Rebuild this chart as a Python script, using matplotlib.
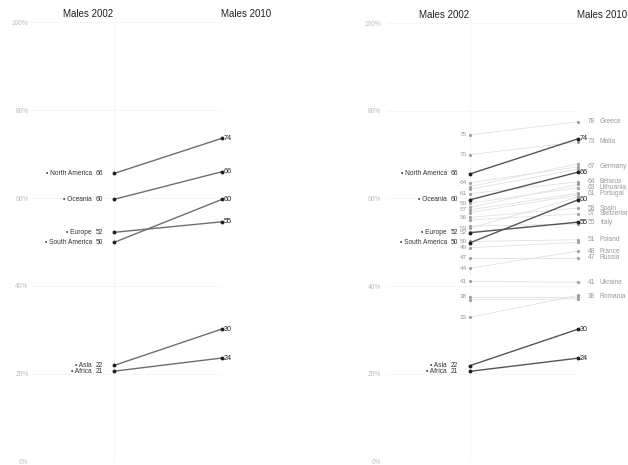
import matplotlib
matplotlib.use("Agg")
import matplotlib.pyplot as plt

plt.rcParams['font.family'] = ['Liberation Sans', 'DejaVu Sans']

W, H, DPI = 628, 465, 100

# ---------------- data ----------------
regions = ["North America", "Oceania", "Europe", "South America", "Asia", "Africa"]
regions_2002 = [65.6, 59.7, 52.2, 49.9, 21.9, 20.6]
regions_2010 = [73.6, 66.0, 54.6, 59.7, 30.2, 23.6]

countries = ["Greece", "Malta", "Germany", "Belarus", "Lithuania", "Portugal",
             "Spain", "Italy", "Poland", "Russia", "France", "Ukraine", "Romania",
             "Switzerland", "Croatia", "Latvia", "Moldova", "Finland", "Ireland",
             "Czech Republic", "Slovakia", "Hungary", "Bulgaria"]
countries_2002 = [74.5, 70.0, 63.6, 61.1, 58.9, 57.4,
                  55.7, 52.3, 50.2, 46.5, 44.1, 41.1, 37.6,
                  55.1, 53.2, 48.8, 32.9, 62.7, 62.1,
                  58.0, 56.8, 53.7, 36.9]
countries_2010 = [77.5, 72.9, 67.2, 63.8, 62.5, 61.2,
                  57.8, 54.6, 50.6, 46.5, 48.0, 40.9, 37.6,
                  56.5, 60.3, 50.0, 37.9, 67.9, 66.7,
                  63.2, 60.8, 54.2, 37.1]
country_label_2002 = [True, True, True, True, True, True,
                      True, True, True, True, True, True, True,
                      False, True, True, True, False, False,
                      False, False, False, False]
country_label_2010 = [True, True, True, True, True, True,
                      True, True, True, True, True, True, True,
                      True, False, False, False, False, False,
                      False, False, False, False]

yticks = [0, 20, 40, 60, 80, 100]
titles = ["Males 2002", "Males 2010"]


def lab(v):
    return str(int(v + 0.5))


fig = plt.figure(figsize=(W / DPI, H / DPI), dpi=DPI)
fig.patch.set_facecolor('white')


def make_ax(x_left, x_a, x_b, y_top, y_bot, tickpad):
    ax = fig.add_axes([x_left / W, 1 - y_bot / H, (x_b - x_left) / W, (y_bot - y_top) / H])
    unit = x_b - x_a
    ax.set_xlim(1 - (x_a - x_left) / unit, 2)
    ax.set_ylim(0, 100)
    for s in ax.spines.values():
        s.set_visible(False)
    ax.set_xticks([])
    ax.set_yticks(yticks)
    ax.set_yticklabels([f"{t}%" for t in yticks])
    ax.tick_params(axis='y', length=0, pad=tickpad, labelsize=4.8, labelcolor='#bdbdbd')
    for t in yticks:
        ax.axhline(t, color='#e6e6e6', lw=0.6, ls=(0, (1, 1.5)), zorder=0)
    for x in (1, 2):
        ax.axvline(x, color='#e6e6e6', lw=0.6, ls=(0, (1, 1.5)), zorder=0)
    ax.annotate(titles[0], xy=(1, 100), xytext=(-1, 5), textcoords='offset pixels',
                ha='right', va='baseline', fontsize=7, color='#222222')
    ax.annotate(titles[1], xy=(2, 100), xytext=(-1, 5), textcoords='offset pixels',
                ha='left', va='baseline', fontsize=7, color='#222222')
    return ax


def draw_regions(ax, color, name_off, num_off):
    for name, a, b in zip(regions, regions_2002, regions_2010):
        ax.plot([1, 2], [a, b], color=color, lw=1.0, zorder=3,
                marker='o', ms=1.8, mfc='#222222', mec='#222222', clip_on=False)
        ax.annotate(f"\u2022 {name}", xy=(1, a), xytext=(name_off, 0), textcoords='offset pixels',
                    ha='right', va='center', fontsize=4.8, color='#333333')
        ax.annotate(lab(a), xy=(1, a), xytext=(num_off, 0), textcoords='offset pixels',
                    ha='right', va='center', fontsize=4.8, color='#333333')
        ax.annotate(lab(b), xy=(2, b), xytext=(2, 0), textcoords='offset pixels',
                    ha='left', va='center', fontsize=5.2, color='#222222')


# ---------------- left panel ----------------
ax1 = make_ax(30, 114, 222, 22.3, 461.7, 1)
draw_regions(ax1, '#6e6e6e', -22, -11)

# ---------------- right panel ----------------
ax2 = make_ax(388, 470, 578, 23.0, 461.7, 5)
for name, a, b, la, lb in zip(countries, countries_2002, countries_2010,
                              country_label_2002, country_label_2010):
    ax2.plot([1, 2], [a, b], color='#dcdcdc', lw=0.5, zorder=1,
             marker='o', ms=1.3, mfc='#a0a0a0', mec='#a0a0a0', clip_on=False)
    if la:
        ax2.annotate(lab(a), xy=(1, a), xytext=(-3, 0), textcoords='offset pixels',
                     ha='right', va='center', fontsize=4.6, color='#9a9a9a')
    if lb:
        ax2.annotate(lab(b), xy=(2, b), xytext=(10, 0), textcoords='offset pixels',
                     ha='left', va='center', fontsize=4.8, color='#9a9a9a')
        ax2.annotate(name, xy=(2, b), xytext=(22, 0), textcoords='offset pixels',
                     ha='left', va='center', fontsize=4.8, color='#9a9a9a')
draw_regions(ax2, '#555555', -23, -12)

fig.savefig("out.png", dpi=DPI, facecolor='white')
